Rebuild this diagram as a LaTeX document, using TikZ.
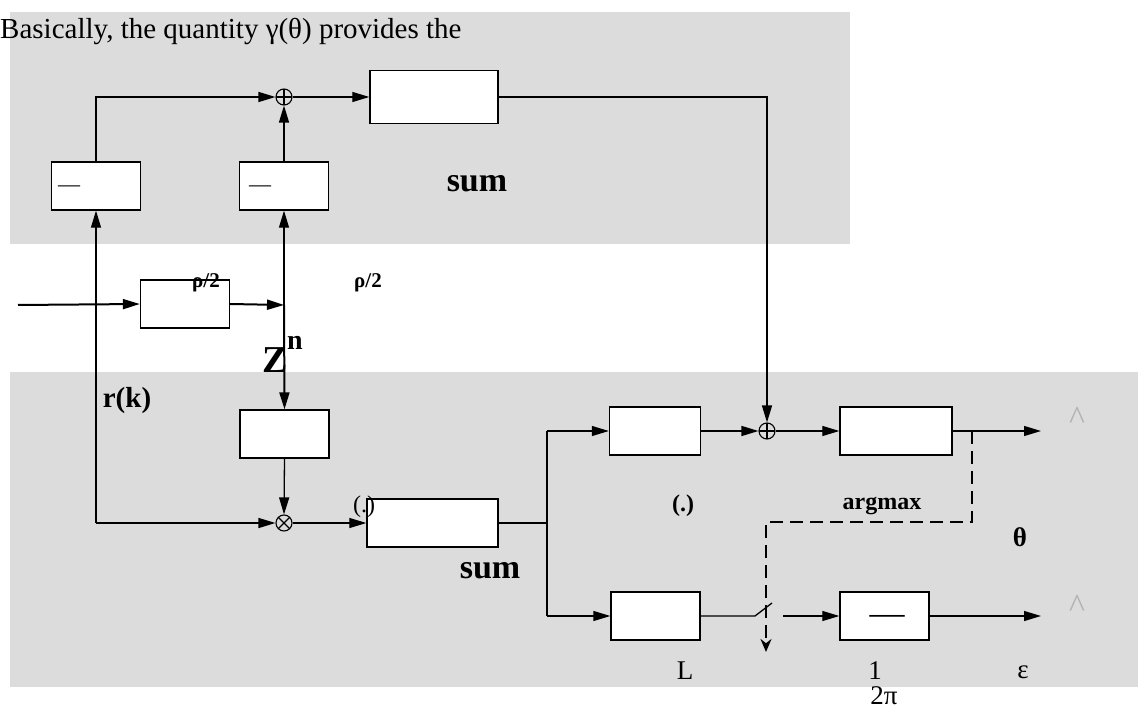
\documentclass[tikz,border=0pt]{standalone}
\usepackage{fontspec}
\setmainfont{Liberation Serif}
\usetikzlibrary{arrows.meta}

\newcommand{\fsz}[1]{\fontsize{#1}{#1}\selectfont}
\definecolor{panelgray}{HTML}{DCDCDC}

\tikzset{
    blk/.style={draw, line width=1.4pt, fill=white, minimum width=89pt, minimum height=48pt, inner sep=0pt},
    adder/.style={draw, circle, line width=1.1pt, minimum size=16pt, inner sep=0pt,
        path picture={\draw[line width=1.1pt] (path picture bounding box.north) -- (path picture bounding box.south)
            (path picture bounding box.west) -- (path picture bounding box.east);}},
    mixer/.style={draw, circle, line width=1.1pt, minimum size=16pt, inner sep=0pt,
        path picture={\draw[line width=1.1pt] (path picture bounding box.north west) -- (path picture bounding box.south east)
            (path picture bounding box.south west) -- (path picture bounding box.north east);}},
    sig/.style={line width=1.3pt, -{Triangle[length=17pt,width=10pt]}},
    thick sig/.style={sig, line width=2pt},
    wire/.style={line width=1.3pt},
    lbl/.style={inner sep=0pt, font=\bfseries\fsz{28}},
    txt/.style={inner sep=0pt, font=\fsz{27}}
}

\begin{document}
\begin{tikzpicture}[x=1pt, y=-1pt]
        \useasboundingbox (0,0) rectangle (1138,711);
        \fill[panelgray] (10,12) rectangle (850,244);
        \fill[panelgray] (10,372) rectangle (1138,687);
        \node[anchor=base west, inner sep=0pt, font=\fsz{29}] (intro) at (0,39) {Basically, the quantity γ(θ) provides the};

        % upper branch
        \node[blk] (avgl) at (96,186) {};
        \node[blk] (avgm) at (284,186) {};
        \node[inner sep=0pt, anchor=west, font=\fsz{22}] (avgldash) at ([xshift=7pt,yshift=-3pt]avgl.west) {—};
        \node[inner sep=0pt, anchor=west, font=\fsz{22}] (avgmdash) at ([xshift=10pt,yshift=-3pt]avgm.west) {—};
        \node[adder] (addt) at (284,97) {};
        \node[blk, minimum width=128pt, minimum height=53pt] (sumt) at (434,97) {};
        \node[lbl, font=\bfseries\fsz{34}] (sumtlbl) at (477,184) {sum};

        \coordinate (tl) at (96,97);
        \coordinate (tr) at (767,97);
        \draw[sig] (avgl.north) -- (tl) -- (addt.west);
        \draw[sig] (avgm.north) -- (addt.south);
        \draw[sig] (addt.east) -- (sumt.west);

        % input and delay
        \coordinate (in) at (18,305);
        \coordinate (zs) at (284,305);
        \node[blk] (gain) at (185,304) {};
        \node[lbl, font=\bfseries\fsz{21}] (rhoa) at (206,283) {ρ/2};
        \node[lbl, font=\bfseries\fsz{21}] (rhob) at (368,283) {ρ/2};
        \draw[thick sig] (in) -- (gain.west);
        \draw[thick sig] (gain.east) -- (zs);
        \draw[sig] (zs) -- (avgm.south);

        \node[blk] (dly) at (284.5,434) {};
        \node[lbl, font=\bfseries\fsz{38}] (zlbl) at (275,360) {Z};
        \node[lbl, font=\bfseries\fsz{28}] (nlbl) at (295,343) {n};
        \draw[thick sig] (zs) -- (dly.north);

        % correlator
        \node[mixer] (mul) at (284,523) {};
        \coordinate (rk) at (96,523);
        \node[lbl, font=\bfseries\fsz{29}] (rklbl) at (127,401) {r(k)};
        \draw[sig] (rk) -- (avgl.south);
        \draw[sig] (rk) -- (mul.west);
        \draw[sig] (dly.south) -- (mul.north);

        \node[blk, minimum width=131pt] (acc) at (432.5,523) {};
        \node[txt, font=\fsz{24}] (acclbl) at (364,507) {(.)};
        \node[lbl, font=\bfseries\fsz{34}] (acclbl2) at (490,571) {sum};
        \draw[sig] (mul.east) -- (acc.west);

        \coordinate (sp) at (547,523);
        \coordinate (spt) at (547,431);
        \coordinate (spb) at (547,616);
        \draw[wire] (acc.east) -- (sp);
        \draw[wire] (spt) -- (spb);

        % theta estimate
        \node[blk, minimum width=91pt] (pwr) at (655,431) {};
        \node[adder] (addb) at (767,431) {};
        \node[blk, minimum width=112pt] (amax) at (896,431) {};
        \coordinate (tout) at (1041,431);
        \node[lbl, font=\bfseries\fsz{24}] (pwrlbl) at (683,506) {(.)};
        \node[lbl, font=\bfseries\fsz{24}] (amaxlbl) at (882,506) {argmax};
        \node[lbl, font=\bfseries\fsz{27}] (thlbl) at (1020,537) {θ};
        \node[txt, text=gray!60, font=\fsz{34}] (thhat) at (1077,418) {\textasciicircum};
        \draw[sig] (spt) -- (pwr.west);
        \draw[sig] (pwr.east) -- (addb.west);
        \draw[sig] (addb.east) -- (amax.west);
        \draw[sig] (amax.east) -- (tout);
        \draw[sig] (sumt.east) -- (tr) -- (addb.north);

        % epsilon estimate
        \node[blk] (ang) at (655.5,616) {};
        \node[blk] (inv) at (884.5,616) {};
        \node[inner sep=0pt, font=\fsz{35}] (invdash) at (887,620) {—};
        \coordinate (swa) at (755,616);
        \coordinate (swb) at (772,603);
        \coordinate (swc) at (783,616);
        \coordinate (eout) at (1041,616);
        \draw[sig] (spb) -- (ang.west);
        \draw[wire] (ang.east) -- (swa) -- (swb);
        \draw[sig] (swc) -- (inv.west);
        \draw[sig] (inv.east) -- (eout);
        \node[txt] (llbl) at (685,671) {L};
        \node[txt] (onelbl) at (875,671) {1};
        \node[txt] (twopi) at (884,696) {2π};
        \node[txt] (epslbl) at (1023,672) {ε};
        \node[txt, text=gray!60, font=\fsz{34}] (ephat) at (1077,606) {\textasciicircum};

        % argmax control
        \coordinate (tp) at (972,431);
        \draw[line width=2.4pt, dash pattern=on 13pt off 7pt, -{Stealth[length=13pt,width=11pt]}] (tp) -- (972,522) -- (766,522) -- (766,652);
\end{tikzpicture}
\end{document}
